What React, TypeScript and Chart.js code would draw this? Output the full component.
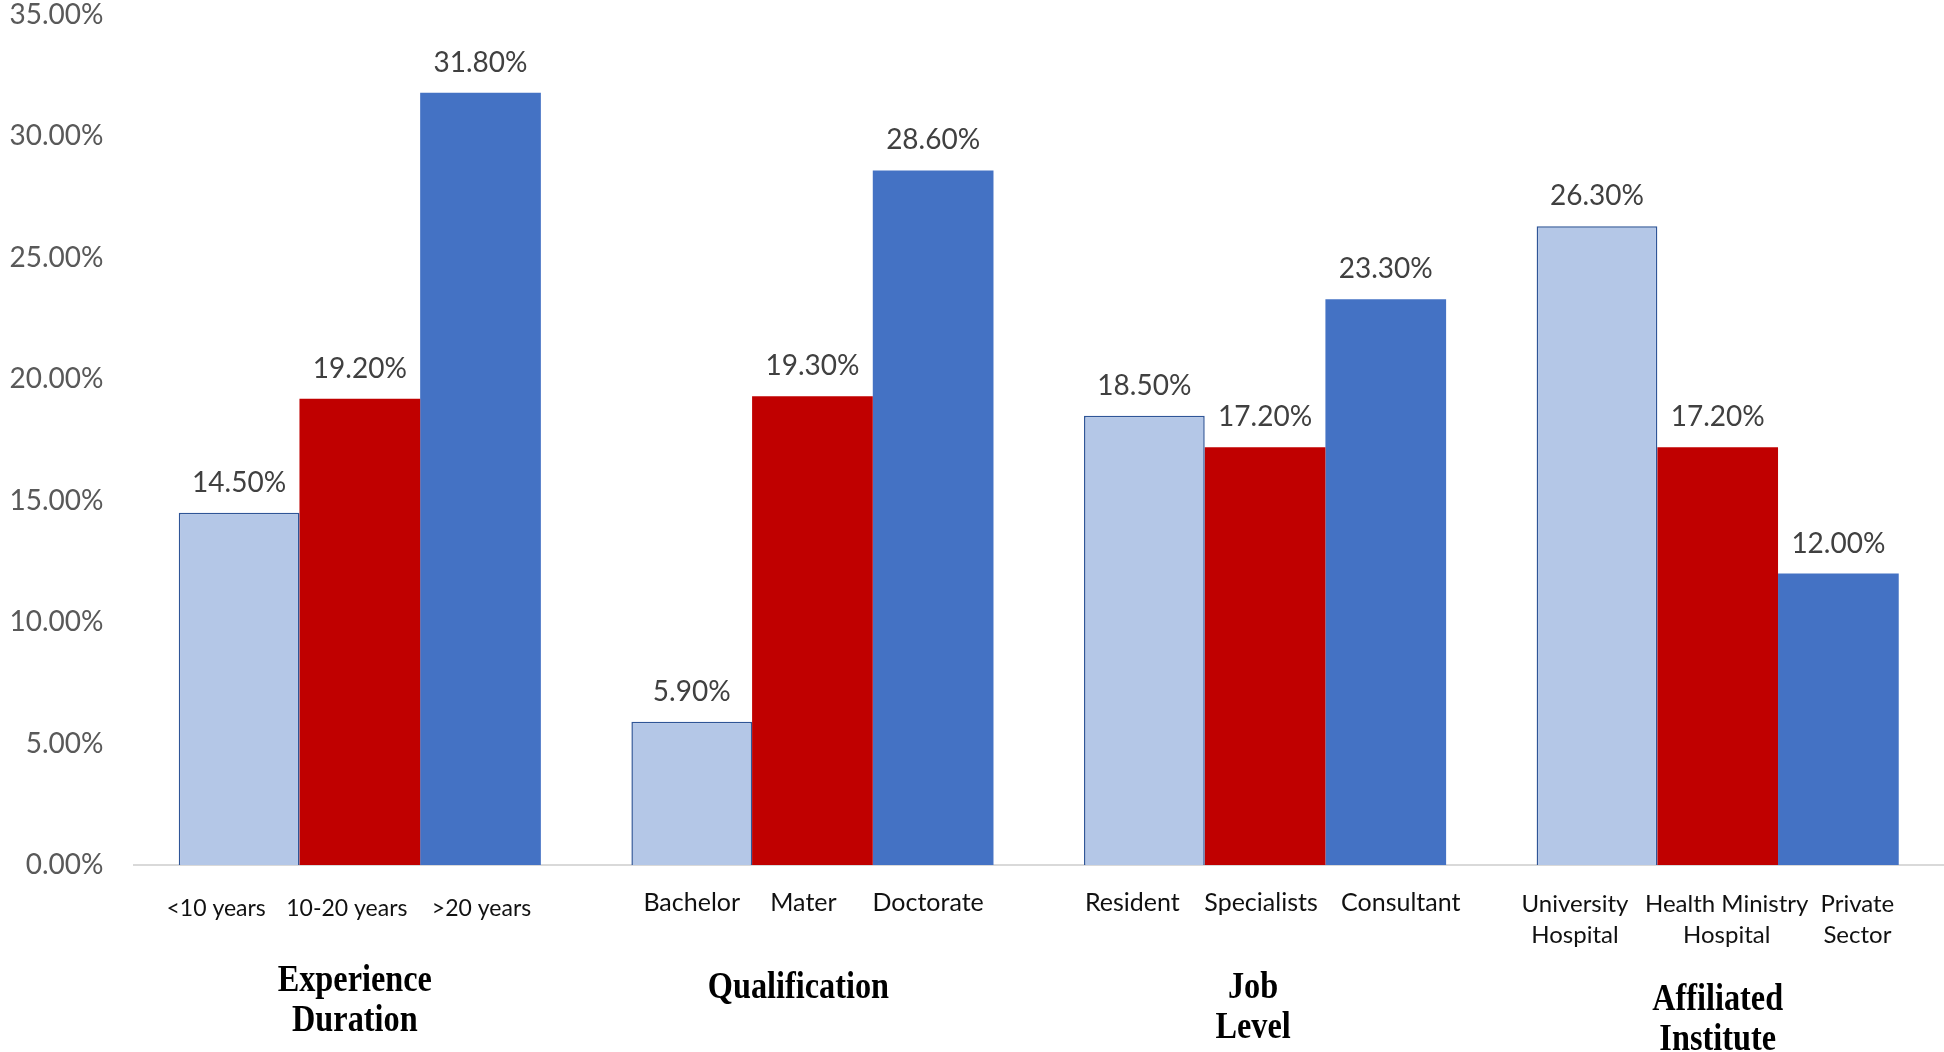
import { useEffect, useRef } from "react";
import { Chart, registerables } from "chart.js";

Chart.register(...registerables);

// ---------- data ----------
const groupLabels: string[][] = [
  ["Experience", "Duration"],
  ["Qualification"],
  ["Job", "Level"],
  ["Affiliated", "Institute"],
];

const subLabels: string[][][] = [
  [["<10 years"], ["10-20 years"], [">20 years"]],
  [["Bachelor"], ["Mater"], ["Doctorate"]],
  [["Resident"], ["Specialists"], ["Consultant"]],
  [["University", "Hospital"], ["Health Ministry", "Hospital"], ["Private", "Sector"]],
];

const firstValues = [14.5, 5.9, 18.5, 26.3];
const secondValues = [19.2, 19.3, 17.2, 17.2];
const thirdValues = [31.8, 28.6, 23.3, 12.0];

const yMin = 0;
const yMax = 35;
const yStep = 5;

// ---------- style / layout constants ----------
const W = 1944;
const H = 1052;
const colors = ["#B4C7E7", "#C00000", "#4472C4"];
const subFontSizes = [23, 25, 25, 24];
const subDx = [
  [-23, -13, 1],
  [0, -9, -5],
  [-12, -4, 15],
  [-22, 9, 19],
];
const subDy = [44, 38, 38, 39];
const groupDx = [-5, -14, -12, 0];
const groupDy = [116, 123, 123, 135];

const labelsPlugin = {
  id: "customLabels",
  afterDatasetsDraw(chart: any) {
    const ctx = chart.ctx as CanvasRenderingContext2D;
    const bottom = chart.chartArea.bottom;
    ctx.save();
    ctx.textAlign = "center";
    ctx.textBaseline = "middle";

    // value labels above bars
    ctx.font = "28px Lato";
    ctx.fillStyle = "#404040";
    chart.data.datasets.forEach((ds: any, d: number) => {
      chart.getDatasetMeta(d).data.forEach((bar: any, i: number) => {
        ctx.fillText(Number(ds.data[i]).toFixed(2) + "%", bar.x, bar.y - 30);
      });
    });

    // sub-category labels under each bar
    ctx.fillStyle = "#111111";
    chart.data.datasets.forEach((_ds: any, d: number) => {
      chart.getDatasetMeta(d).data.forEach((bar: any, i: number) => {
        ctx.font = `${subFontSizes[i]}px Lato`;
        const lines = subLabels[i][d];
        lines.forEach((line, k) => {
          ctx.fillText(line, bar.x + subDx[i][d], bottom + subDy[i] + k * 31);
        });
      });
    });

    // group labels (bold serif, condensed)
    ctx.fillStyle = "#000000";
    ctx.font = "bold 38px 'Liberation Serif'";
    const xs = chart.scales.x;
    groupLabels.forEach((lines, i) => {
      const cx = xs.getPixelForValue(i) + groupDx[i];
      lines.forEach((line, k) => {
        ctx.save();
        ctx.translate(cx, bottom + groupDy[i] + k * 40);
        ctx.scale(0.85, 1);
        ctx.fillText(line, 0, 0);
        ctx.restore();
      });
    });

    ctx.restore();
  },
};

export default function App() {
  const ref = useRef<HTMLCanvasElement | null>(null);

  useEffect(() => {
    if (!ref.current) return;
    const chart = new Chart(ref.current, {
      type: "bar",
      data: {
        labels: groupLabels.map((g) => g.join(" ")),
        datasets: [
          {
            data: firstValues,
            backgroundColor: colors[0],
            borderColor: "#2F5597",
            borderWidth: 1.5,
          },
          { data: secondValues, backgroundColor: colors[1], borderWidth: 0 },
          { data: thirdValues, backgroundColor: colors[2], borderWidth: 0 },
        ],
      },
      options: {
        responsive: false,
        animation: false,
        devicePixelRatio: 1,
        layout: { padding: { left: 0, right: 0, top: 15, bottom: 0 } },
        datasets: { bar: { categoryPercentage: 0.8, barPercentage: 1.0 } },
        plugins: {
          legend: { display: false },
          title: { display: false },
          tooltip: { enabled: false },
        },
        scales: {
          x: {
            grid: { display: false, drawTicks: false },
            border: { display: true, color: "#D9D9D9", width: 2 },
            ticks: { display: false },
            afterFit: (scale: any) => {
              scale.height = 187;
              scale.paddingLeft = 0;
              scale.paddingRight = 0;
            },
          },
          y: {
            min: yMin,
            max: yMax,
            grid: { display: false, drawTicks: false },
            border: { display: false },
            ticks: {
              stepSize: yStep,
              padding: 30,
              color: "#595959",
              font: { family: "Lato", size: 28 },
              callback: (v: any) => Number(v).toFixed(2) + "%",
            },
            afterFit: (scale: any) => {
              scale.width = 133.5;
              scale.paddingTop = 0;
              scale.paddingBottom = 0;
            },
          },
        },
      },
      plugins: [labelsPlugin],
    });
    return () => chart.destroy();
  }, []);

  return (
    <div style={{ position: "absolute", left: 0, top: 0, width: W, height: H, background: "#fff" }}>
      <canvas ref={ref} width={W} height={H} style={{ display: "block" }} />
    </div>
  );
}
